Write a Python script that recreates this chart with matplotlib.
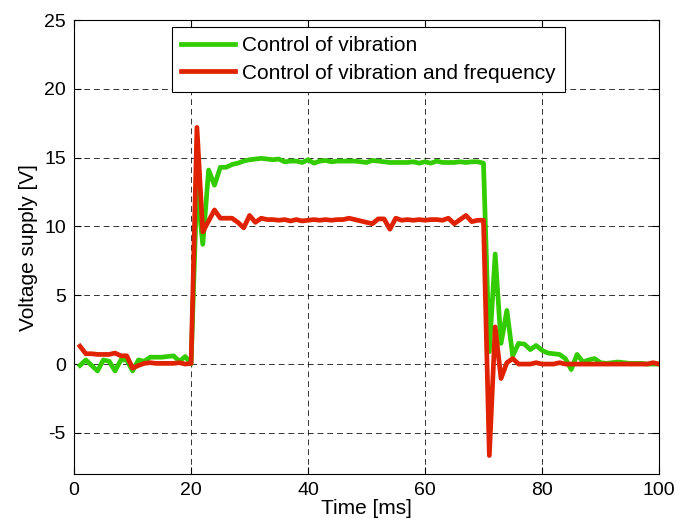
import numpy as np
import matplotlib
matplotlib.use('Agg')
import matplotlib.pyplot as plt

plt.rcParams['font.family'] = ['Liberation Sans', 'DejaVu Sans']
plt.rcParams['axes.unicode_minus'] = False

# time axis [ms]
t = np.arange(1, 101)

# Control of vibration
green = [-0.1, 0.3, -0.1, -0.5, 0.3, 0.2, -0.5, 0.3, 0.3, -0.5,
         0.3, 0.2, 0.5, 0.5, 0.5, 0.55, 0.6, 0.2, 0.55, 0.0,
         13.0, 8.7, 14.1, 13.0, 14.3, 14.3, 14.5, 14.6, 14.75, 14.85,
         14.9, 14.95, 14.9, 14.85, 14.9, 14.7, 14.75, 14.75, 14.65, 14.85,
         14.6, 14.75, 14.8, 14.7, 14.75, 14.75, 14.75, 14.75, 14.7, 14.65,
         14.8, 14.75, 14.7, 14.65, 14.65, 14.65, 14.65, 14.7, 14.6, 14.7,
         14.6, 14.75, 14.65, 14.65, 14.65, 14.7, 14.65, 14.7, 14.7, 14.6,
         0.9, 8.0, 1.5, 3.9, 0.6, 1.5, 1.45, 1.05, 1.35, 1.0,
         0.8, 0.75, 0.7, 0.4, -0.4, 0.7, 0.15, 0.3, 0.4, 0.1,
         0.05, 0.1, 0.15, 0.1, 0.05, 0.05, 0.05, 0.0, 0.0, 0.0]

# Control of vibration and frequency
red = [1.3, 0.75, 0.75, 0.7, 0.7, 0.7, 0.8, 0.6, 0.6, -0.3,
       -0.1, 0.05, 0.1, 0.05, 0.05, 0.05, 0.05, 0.1, 0.0, 0.05,
       17.2, 9.6, 10.4, 11.2, 10.6, 10.6, 10.6, 10.3, 9.9, 10.8,
       10.3, 10.6, 10.5, 10.5, 10.45, 10.5, 10.4, 10.5, 10.4, 10.45,
       10.5, 10.45, 10.5, 10.45, 10.5, 10.5, 10.6, 10.5, 10.4, 10.3,
       10.2, 10.55, 10.55, 9.8, 10.6, 10.45, 10.5, 10.45, 10.5, 10.45,
       10.5, 10.5, 10.45, 10.6, 10.2, 10.5, 10.8, 10.35, 10.45, 10.45,
       -6.65, 2.7, -1.05, 0.1, 0.4, 0.0, 0.0, 0.0, 0.1, 0.0,
       0.0, 0.0, 0.1, 0.0, 0.0, 0.0, 0.0, 0.0, 0.0, 0.0,
       0.0, 0.0, 0.0, 0.0, 0.0, 0.0, 0.0, 0.0, 0.1, 0.0]

fig = plt.figure(figsize=(6.8, 5.28), dpi=100)
ax = fig.add_axes([0.109, 0.102, 0.860, 0.860])

ax.plot(t, green, color='#33cc00', lw=3.4, label='Control of vibration')
ax.plot(t, red, color='#e02200', lw=3.4, label='Control of vibration and frequency')

ax.set_xlim(0, 100)
ax.set_ylim(-8, 25)
ax.set_xticks([0, 20, 40, 60, 80, 100])
ax.set_yticks([-5, 0, 5, 10, 15, 20, 25])
ax.grid(True, color='black', linestyle=(0, (6, 4)), linewidth=0.7, alpha=0.8)
ax.tick_params(direction='in', top=True, right=True, labelsize=14, length=5, pad=6)
for s in ax.spines.values():
    s.set_linewidth(0.8)

ax.set_xlabel('Time [ms]', fontsize=15, labelpad=0)
ax.set_ylabel('Voltage supply [V]', fontsize=15, labelpad=4)

leg = ax.legend(loc='upper left', bbox_to_anchor=(0.167, 0.985), fontsize=15,
                fancybox=False, framealpha=1, edgecolor='black',
                handlelength=2.6, handletextpad=0.3, borderpad=0.45,
                labelspacing=0.4, borderaxespad=0)
leg.get_frame().set_linewidth(0.8)

plt.savefig('out.png', dpi=100)
